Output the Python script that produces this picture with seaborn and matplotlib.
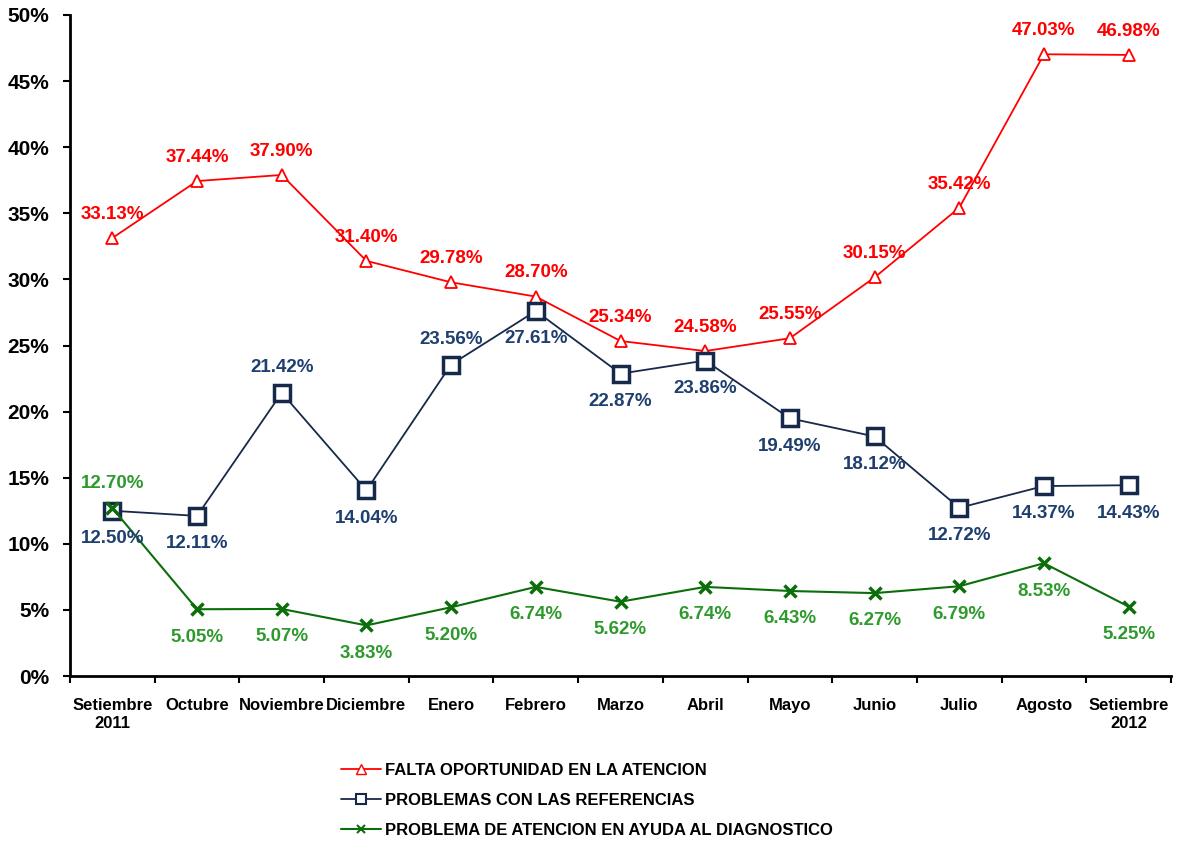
import pandas as pd
import matplotlib.pyplot as plt
import seaborn as sns
from matplotlib.lines import Line2D
from matplotlib.ticker import PercentFormatter

months = ['Setiembre\n2011', 'Octubre', 'Noviembre', 'Diciembre', 'Enero', 'Febrero', 'Marzo',
          'Abril', 'Mayo', 'Junio', 'Julio', 'Agosto', 'Setiembre\n2012']
falta = [33.13, 37.44, 37.90, 31.40, 29.78, 28.70, 25.34, 24.58, 25.55, 30.15, 35.42, 47.03, 46.98]
referencias = [12.50, 12.11, 21.42, 14.04, 23.56, 27.61, 22.87, 23.86, 19.49, 18.12, 12.72, 14.37, 14.43]
diagnostico = [12.70, 5.05, 5.07, 3.83, 5.20, 6.74, 5.62, 6.74, 6.43, 6.27, 6.79, 8.53, 5.25]
names = ['FALTA OPORTUNIDAD EN LA ATENCION', 'PROBLEMAS CON LAS REFERENCIAS',
         'PROBLEMA DE ATENCION EN AYUDA AL DIAGNOSTICO']
# which blue labels sit above the point
ref_above = [False, False, True, False, True, False, False, False, False, False, False, False, False]
diag_above = [True] + [False] * 12

sns.set_style('white')
plt.rcParams['font.family'] = ['Liberation Sans', 'DejaVu Sans']
plt.rcParams['font.weight'] = 'bold'
plt.rcParams['text.color'] = 'black'
plt.rcParams['xtick.color'] = 'black'
plt.rcParams['ytick.color'] = 'black'

red = '#FF0000'
navy = '#17294A'
navy_txt = '#1F3F6E'
green = '#0B6E0B'
green_txt = '#2E9A2E'

df = pd.DataFrame({'mes': months, 'falta': falta, 'ref': referencias, 'diag': diagnostico})

fig = plt.figure(figsize=(11.79, 8.41), dpi=100)
ax = fig.add_axes([70 / 1179, 1 - 676 / 841, 1101 / 1179, 661 / 841])

sns.lineplot(data=df, x='mes', y='falta', ax=ax, color=red, lw=1.3, marker='^', ms=9,
             mfc='white', mec=red, mew=1.3, sort=False)
sns.lineplot(data=df, x='mes', y='ref', ax=ax, color=navy, lw=1.3, marker='s', ms=12,
             mfc='white', mec=navy, mew=2.5, sort=False)
sns.lineplot(data=df, x='mes', y='diag', ax=ax, color=green, lw=1.5, marker='x', ms=8,
             mec=green, mew=2.5, sort=False)

fs = 13.5
for i, v in enumerate(falta):
    ax.annotate(f'{v:.2f}%', (i, v), xytext=(0, 17), textcoords='offset points',
                ha='center', va='center', color=red, fontsize=fs, fontweight='bold')
for i, v in enumerate(referencias):
    dy = 18 if ref_above[i] else -20
    ax.annotate(f'{v:.2f}%', (i, v), xytext=(0, dy), textcoords='offset points',
                ha='center', va='center', color=navy_txt, fontsize=fs, fontweight='bold')
for i, v in enumerate(diagnostico):
    dy = 18 if diag_above[i] else -20
    ax.annotate(f'{v:.2f}%', (i, v), xytext=(0, dy), textcoords='offset points',
                ha='center', va='center', color=green_txt, fontsize=fs, fontweight='bold')

ax.set_xlim(-0.5, len(months) - 0.5)
ax.set_ylim(0, 50)
ax.set_yticks(range(0, 51, 5))
ax.yaxis.set_major_formatter(PercentFormatter(decimals=0))
ax.set_xticks(range(len(months)))
ax.set_xticklabels(months, fontsize=12, fontweight='bold')
ax.set_xticks([i - 0.5 for i in range(len(months) + 1)], minor=True)
ax.tick_params(axis='x', which='major', length=0, pad=16)
ax.tick_params(axis='x', which='minor', length=5, width=1.5, direction='out', bottom=True)
ax.tick_params(axis='y', which='major', length=5, width=1.5, direction='out', left=True,
               labelsize=15, pad=10)
for lab in ax.get_yticklabels():
    lab.set_fontweight('bold')
ax.set_xlabel('')
ax.set_ylabel('')
for s in ['top', 'right']:
    ax.spines[s].set_visible(False)
for s in ['left', 'bottom']:
    ax.spines[s].set_color('black')
    ax.spines[s].set_linewidth(2)

handles = [
    Line2D([], [], color=red, lw=1.3, marker='^', ms=7, mfc='white', mec=red),
    Line2D([], [], color=navy, lw=1.3, marker='s', ms=7, mfc='white', mec=navy, mew=1.5),
    Line2D([], [], color=green, lw=1.5, marker='x', ms=6, mec=green, mew=1.5),
]
fig.legend(handles, names, loc='upper left', bbox_to_anchor=(326 / 1179, 1 - 748 / 841),
           frameon=False, handlelength=2.4, handletextpad=0.25, labelspacing=0.9,
           prop={'size': 12, 'weight': 'bold'})

fig.savefig('out.png', dpi=100)
